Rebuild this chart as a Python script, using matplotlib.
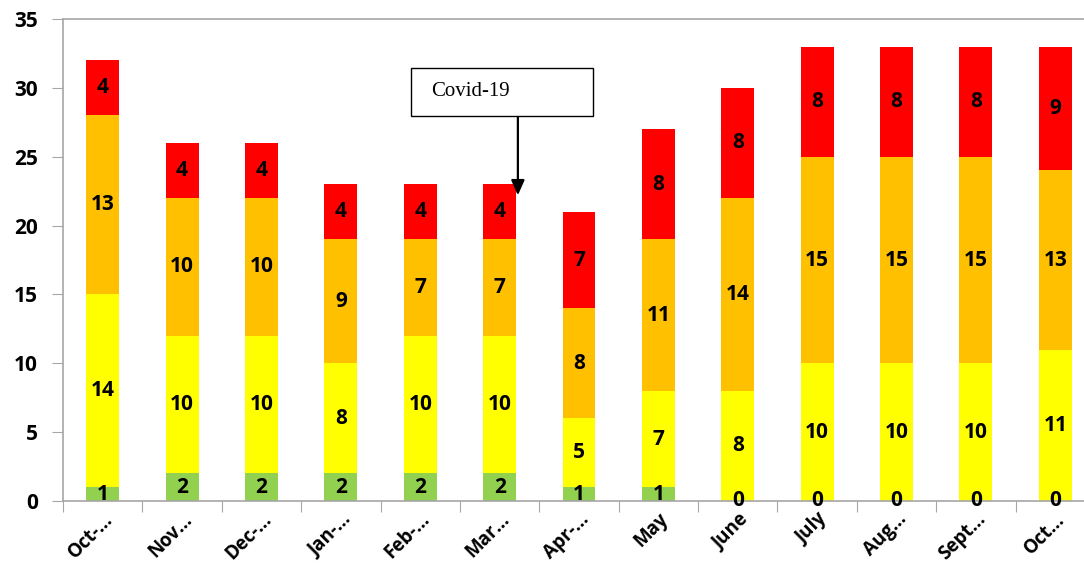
import matplotlib
matplotlib.use("Agg")
import matplotlib.pyplot as plt
import numpy as np
from matplotlib.patches import Rectangle

categories = ["Oct-…", "Nov…", "Dec-…", "Jan-…", "Feb-…", "Mar…", "Apr-…",
              "May", "June", "July", "Aug…", "Sept…", "Oct…"]
green = [1, 2, 2, 2, 2, 2, 1, 1, 0, 0, 0, 0, 0]
yellow = [14, 10, 10, 8, 10, 10, 5, 7, 8, 10, 10, 10, 11]
orange = [13, 10, 10, 9, 7, 7, 8, 11, 14, 15, 15, 15, 13]
red = [4, 4, 4, 4, 4, 4, 7, 8, 8, 8, 8, 8, 9]
yticks = [0, 5, 10, 15, 20, 25, 30, 35]

series = [green, yellow, orange, red]
colors = ["#92D050", "#FFFF00", "#FFC000", "#FF0000"]

fig = plt.figure(figsize=(10.84, 5.69), dpi=100)
ax = fig.add_axes([63/1084, 1-501/569, 1032/1084, (501-19)/569])

x = np.arange(len(categories))
bottom = np.zeros(len(categories))
lab_font = dict(family=["Open Sans", "DejaVu Sans"], fontweight="bold", fontsize=15)
xlab_font = dict(family=["Open Sans", "DejaVu Sans"], fontweight="bold", fontsize=13.5)
for vals, c in zip(series, colors):
    v = np.array(vals, dtype=float)
    ax.bar(x, v, 0.415, bottom=bottom, color=c, linewidth=0)
    for xi, b, h in zip(x, bottom, v):
        ax.text(xi, b + h/2, str(int(h)), ha="center", va="center", color="black", **lab_font)
    bottom += v

ax.set_xlim(-0.5, len(categories) - 0.5)
ax.set_ylim(0, 35)
ax.set_yticks(yticks)
ax.set_yticklabels([str(t) for t in yticks], **lab_font)
ax.set_xticks(np.arange(len(categories) + 1) - 0.5, minor=False)
ax.set_xticklabels([])
ax.set_xticks(x, minor=True)
ax.set_xticklabels(categories, minor=True, rotation=45, ha="right", va="top",
                   rotation_mode="anchor", **xlab_font)
ax.tick_params(axis="x", which="minor", length=0, pad=6)
ax.tick_params(axis="x", which="major", length=8, color="#A6A6A6", direction="out")
ax.tick_params(axis="y", length=8, color="#A6A6A6", direction="out", pad=10)

for s in ["left", "bottom", "top"]:
    ax.spines[s].set_color("#A6A6A6")
    ax.spines[s].set_linewidth(1.2)
ax.spines["right"].set_visible(False)

# Covid-19 annotation box and arrow
ax.add_patch(Rectangle((3.883, 27.96), 2.292, 3.49, fill=False, edgecolor="black",
                       linewidth=1.0, zorder=5, clip_on=False))
ax.text(4.135, 29.75, "Covid-19", ha="left", va="center", fontsize=15,
        family=["Liberation Serif", "DejaVu Serif"], zorder=6)
ax.annotate("", xy=(5.23, 22.2), xytext=(5.23, 27.85),
            arrowprops=dict(arrowstyle="-|>,head_length=0.9,head_width=0.4",
                            color="black", linewidth=1.6, shrinkA=0, shrinkB=0))

fig.savefig("out.png", dpi=100)
